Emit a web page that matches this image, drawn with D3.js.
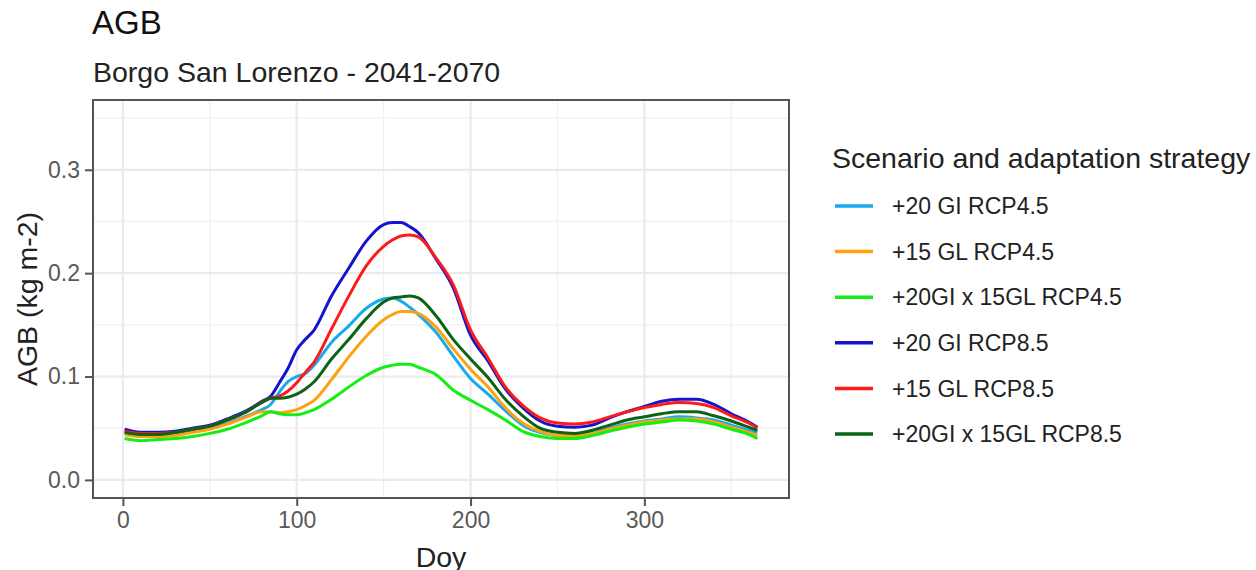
<!DOCTYPE html>
<html>
<head>
<meta charset="utf-8">
<script src="https://cdn.jsdelivr.net/npm/d3@7"></script>
<style>
  body { margin: 0; background: #fff; }
  text { font-family: "Liberation Sans", Arial, sans-serif; }
</style>
</head>
<body>
<svg id="chart"></svg>
<script>
// day of year where values were read
const days = [1,10,20,30,40,50,60,70,80,85,90,95,100,105,110,120,130,140,150,155,160,165,170,180,190,200,210,220,230,240,250,260,270,280,290,300,310,320,330,340,350,360,365];

// series values (kg m-2)
const gi20_45 = [.045,.043,.043,.044,.047,.050,.055,.061,.068,.073,.085,.095,.100,.103,.111,.133,.149,.166,.175,.176,.173,.167,.160,.143,.120,.098,.083,.067,.053,.046,.043,.043,.046,.050,.054,.057,.059,.061,.060,.058,.053,.048,.046];
const gl15_45 = [.044,.042,.042,.043,.046,.049,.054,.060,.066,.066,.065,.066,.068,.072,.077,.097,.119,.139,.155,.160,.163,.163,.161,.148,.127,.107,.090,.070,.055,.047,.043,.043,.045,.049,.053,.056,.058,.059,.059,.056,.051,.046,.043];
const combo_45 = [.040,.038,.039,.040,.042,.045,.049,.055,.062,.066,.064,.063,.063,.065,.068,.078,.090,.101,.109,.111,.112,.112,.109,.102,.087,.077,.068,.058,.047,.042,.040,.040,.043,.047,.051,.054,.056,.058,.057,.054,.049,.044,.040];
const gi20_85 = [.049,.046,.046,.047,.050,.053,.059,.066,.076,.081,.094,.108,.126,.136,.145,.178,.205,.231,.247,.249,.249,.245,.239,.214,.186,.140,.115,.088,.070,.057,.052,.051,.053,.060,.066,.071,.076,.078,.078,.073,.064,.056,.051];
const gl15_85 = [.047,.045,.045,.046,.049,.052,.058,.065,.075,.079,.081,.086,.094,.104,.114,.146,.178,.207,.226,.232,.236,.237,.235,.215,.189,.145,.118,.090,.072,.060,.055,.054,.056,.061,.066,.070,.073,.075,.074,.070,.062,.055,.050];
const combo_85 = [.046,.044,.044,.046,.049,.052,.058,.065,.075,.079,.079,.080,.083,.088,.095,.117,.136,.156,.172,.176,.177,.178,.176,.159,.136,.117,.099,.078,.062,.050,.046,.045,.048,.053,.058,.061,.064,.066,.066,.062,.057,.051,.048];

const seriesNames = ["+20 GI RCP4.5", "+15 GL RCP4.5", "+20GI x 15GL RCP4.5", "+20 GI RCP8.5", "+15 GL RCP8.5", "+20GI x 15GL RCP8.5"];
const seriesColors = ["#19aaee", "#ffa10f", "#14ee14", "#1414cc", "#ff1a1a", "#0b6414"];
const seriesValues = [gi20_45, gl15_45, combo_45, gi20_85, gl15_85, combo_85];

const xTicks = [0, 100, 200, 300];
const yTicks = [0, 0.1, 0.2, 0.3];

const width = 1256, height = 570;
const panel = {left: 93, right: 789, top: 100, bottom: 498};

const svg = d3.select("#chart")
    .attr("width", width)
    .attr("height", height);

const x = d3.scaleLinear()
    .domain([1 - 18.2, 365 + 18.2])
    .range([panel.left, panel.right]);

const y = d3.scaleLinear()
    .domain([-0.0175, 0.3675])
    .range([panel.bottom, panel.top]);

// grid
const grid = svg.append("g");
[50, 150, 250, 350].forEach(d => {
  grid.append("line").attr("x1", x(d)).attr("x2", x(d))
    .attr("y1", panel.top).attr("y2", panel.bottom)
    .attr("stroke", "#f0f0f0").attr("stroke-width", 1.2);
});
[0.05, 0.15, 0.25, 0.35].forEach(d => {
  grid.append("line").attr("y1", y(d)).attr("y2", y(d))
    .attr("x1", panel.left).attr("x2", panel.right)
    .attr("stroke", "#f0f0f0").attr("stroke-width", 1.2);
});
xTicks.forEach(d => {
  grid.append("line").attr("x1", x(d)).attr("x2", x(d))
    .attr("y1", panel.top).attr("y2", panel.bottom)
    .attr("stroke", "#ebebeb").attr("stroke-width", 2.2);
});
yTicks.forEach(d => {
  grid.append("line").attr("y1", y(d)).attr("y2", y(d))
    .attr("x1", panel.left).attr("x2", panel.right)
    .attr("stroke", "#ebebeb").attr("stroke-width", 2.2);
});

// lines
const line = d3.line()
    .x(d => x(d[0]))
    .y(d => y(d[1]))
    .curve(d3.curveMonotoneX);

seriesValues.forEach((vals, i) => {
  svg.append("path")
    .datum(days.map((d, j) => [d, vals[j]]))
    .attr("fill", "none")
    .attr("stroke", seriesColors[i])
    .attr("stroke-width", 3)
    .attr("d", line);
});

// panel border
svg.append("rect")
    .attr("x", panel.left).attr("y", panel.top)
    .attr("width", panel.right - panel.left)
    .attr("height", panel.bottom - panel.top)
    .attr("fill", "none")
    .attr("stroke", "#555")
    .attr("stroke-width", 2);

// axes
const xAxis = svg.append("g")
    .attr("transform", `translate(0,${panel.bottom + 1})`)
    .call(d3.axisBottom(x).tickValues(xTicks).tickSize(7).tickPadding(6).tickFormat(d3.format("d")));
const yAxis = svg.append("g")
    .attr("transform", `translate(${panel.left - 1},0)`)
    .call(d3.axisLeft(y).tickValues(yTicks).tickSize(7).tickPadding(5).tickFormat(d3.format(".1f")));

[xAxis, yAxis].forEach(g => {
  g.select(".domain").remove();
  g.selectAll(".tick line").attr("stroke", "#555").attr("stroke-width", 2);
  g.selectAll(".tick text").attr("fill", "#595959").style("font-size", "23px");
});

// titles
svg.append("text").attr("x", 92).attr("y", 34)
    .style("font-size", "33px").attr("fill", "#111").text("AGB");
svg.append("text").attr("x", 93).attr("y", 82)
    .style("font-size", "28.5px").attr("fill", "#222").text("Borgo San Lorenzo - 2041-2070");

svg.append("text")
    .attr("transform", `translate(37,${(panel.top + panel.bottom) / 2}) rotate(-90)`)
    .attr("text-anchor", "middle")
    .style("font-size", "28.5px").attr("fill", "#222")
    .text("AGB (kg m-2)");

svg.append("text")
    .attr("x", (panel.left + panel.right) / 2).attr("y", 567)
    .attr("text-anchor", "middle")
    .style("font-size", "28.5px").attr("fill", "#222")
    .text("Doy");

// legend
const legend = svg.append("g");
legend.append("text").attr("x", 832).attr("y", 168)
    .style("font-size", "28.5px").attr("fill", "#222")
    .text("Scenario and adaptation strategy");

seriesNames.forEach((name, i) => {
  const cy = 206 + i * 45.6;
  legend.append("line")
    .attr("x1", 835).attr("x2", 873).attr("y1", cy).attr("y2", cy)
    .attr("stroke", seriesColors[i]).attr("stroke-width", 3.5);
  legend.append("text")
    .attr("x", 892).attr("y", cy).attr("dy", "0.36em")
    .style("font-size", "23px").attr("fill", "#222")
    .text(name);
});
</script>
</body>
</html>
